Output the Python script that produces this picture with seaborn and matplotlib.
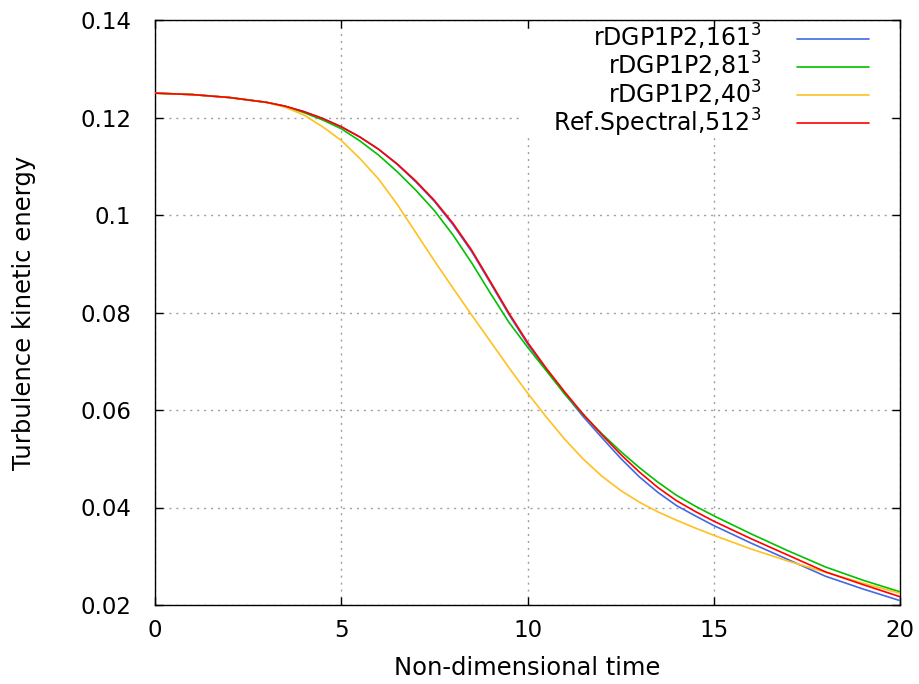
import matplotlib
matplotlib.use("Agg")
import matplotlib.pyplot as plt
import seaborn as sns
from matplotlib.patches import Rectangle

# ---------------- data ----------------
time = [0, 1, 2, 3, 3.5, 4, 4.5, 5, 5.5, 6, 6.5, 7, 7.5, 8, 8.5, 9, 9.5, 10,
        10.5, 11, 11.5, 12, 12.5, 13, 13.5, 14, 14.5, 15, 16, 17, 18, 19, 20]

tke_161 = [0.1250, 0.1247, 0.1241, 0.1231, 0.1223, 0.1212, 0.1198, 0.1181, 0.1160,
           0.1135, 0.1104, 0.1068, 0.1028, 0.0980, 0.0925, 0.0861, 0.0796, 0.0736,
           0.0683, 0.0633, 0.0586, 0.0543, 0.0501, 0.0463, 0.0431, 0.0404, 0.0383,
           0.0363, 0.0327, 0.0293, 0.0259, 0.0233, 0.0209]

tke_81 = [0.1250, 0.1247, 0.1241, 0.1231, 0.1223, 0.1210, 0.1195, 0.1177, 0.1152,
          0.1123, 0.1089, 0.1051, 0.1009, 0.0959, 0.0902, 0.0840, 0.0780, 0.0729,
          0.0681, 0.0633, 0.0590, 0.0551, 0.0515, 0.0482, 0.0452, 0.0425, 0.0403,
          0.0383, 0.0346, 0.0311, 0.0278, 0.0251, 0.0227]

tke_40 = [0.1250, 0.1247, 0.1241, 0.1231, 0.1221, 0.1205, 0.1181, 0.1153, 0.1116,
          0.1074, 0.1022, 0.0964, 0.0906, 0.0850, 0.0795, 0.0741, 0.0687, 0.0635,
          0.0586, 0.0540, 0.0499, 0.0464, 0.0435, 0.0411, 0.0391, 0.0374, 0.0358,
          0.0343, 0.0315, 0.0290, 0.0267, 0.0245, 0.0224]

tke_ref = [0.1250, 0.1247, 0.1241, 0.1231, 0.1223, 0.1212, 0.1198, 0.1181, 0.1160,
           0.1135, 0.1105, 0.1070, 0.1030, 0.0983, 0.0928, 0.0864, 0.0799, 0.0739,
           0.0686, 0.0637, 0.0591, 0.0549, 0.0509, 0.0473, 0.0441, 0.0414, 0.0392,
           0.0372, 0.0336, 0.0302, 0.0268, 0.0242, 0.0217]

series_labels = [r"rDGP1P2,161$^3$", r"rDGP1P2,81$^3$",
                 r"rDGP1P2,40$^3$", r"Ref.Spectral,512$^3$"]
series_colors = ["#4169e1", "#00c000", "#ffc020", "#ff0000"]

x_ticks = [0, 5, 10, 15, 20]
x_tick_labels = ["0", "5", "10", "15", "20"]
y_ticks = [0.02, 0.04, 0.06, 0.08, 0.10, 0.12, 0.14]
y_tick_labels = ["0.02", "0.04", "0.06", "0.08", "0.1", "0.12", "0.14"]

x_label = "Non-dimensional time"
y_label = "Turbulence kinetic energy"

# ---------------- style ----------------
sns.set_theme(style="white")
plt.rcParams['font.family'] = ['DejaVu Sans']
plt.rcParams['mathtext.fontset'] = 'dejavusans'
plt.rcParams['text.color'] = 'black'
plt.rcParams['axes.labelcolor'] = 'black'

W, H = 919, 684
fig = plt.figure(figsize=(W / 100, H / 100), dpi=100)
L, R, T, B = 155, 900, 20, 605
ax = fig.add_axes([L / W, (H - B) / H, (R - L) / W, (B - T) / H])

all_series = [tke_161, tke_81, tke_40, tke_ref]
for ys, lab, col in zip(all_series, series_labels, series_colors):
    sns.lineplot(x=time, y=ys, ax=ax, color=col, linewidth=1.2,
                 estimator=None, sort=False, label=lab, zorder=3)
handles, labs = ax.get_legend_handles_labels()

ax.set_xlim(0, 20)
ax.set_ylim(0.02, 0.14)
ax.set_xticks(x_ticks)
ax.set_xticklabels(x_tick_labels)
ax.set_yticks(y_ticks)
ax.set_yticklabels(y_tick_labels)

ax.grid(True, color='#a0a0a0', linestyle=(0, (1.5, 3.5)), linewidth=1.0)
ax.set_axisbelow(True)

for s in ax.spines.values():
    s.set_color('black')
    s.set_linewidth(1.0)
    s.set_visible(True)

ax.tick_params(axis='both', which='major', direction='in', length=6, width=1,
               colors='black', labelsize=16.5, top=True, right=True,
               bottom=True, left=True)
ax.tick_params(axis='y', pad=17)
ax.tick_params(axis='x', pad=10)

ax.set_xlabel(x_label, fontsize=17.5, labelpad=10)
ax.set_ylabel(y_label, fontsize=17.5, labelpad=32)

# white box behind the key (as in the reference, the grid is hidden there)
ax.add_patch(Rectangle((0.49, 0.803), 1 - 0.49 - 12 / 745, 1 - 0.803 - 10 / 585,
                       transform=ax.transAxes, facecolor='white',
                       edgecolor='none', zorder=1))

leg = ax.legend(handles, labs, loc='upper right', markerfirst=False,
                frameon=False, fontsize=17, handlelength=3.05,
                handletextpad=1.5, labelspacing=-0.085, borderpad=0,
                borderaxespad=0,
                bbox_to_anchor=(869 / W, (H - 22) / H),
                bbox_transform=fig.transFigure)
leg.set_zorder(4)

fig.savefig("out.png", dpi=100)
